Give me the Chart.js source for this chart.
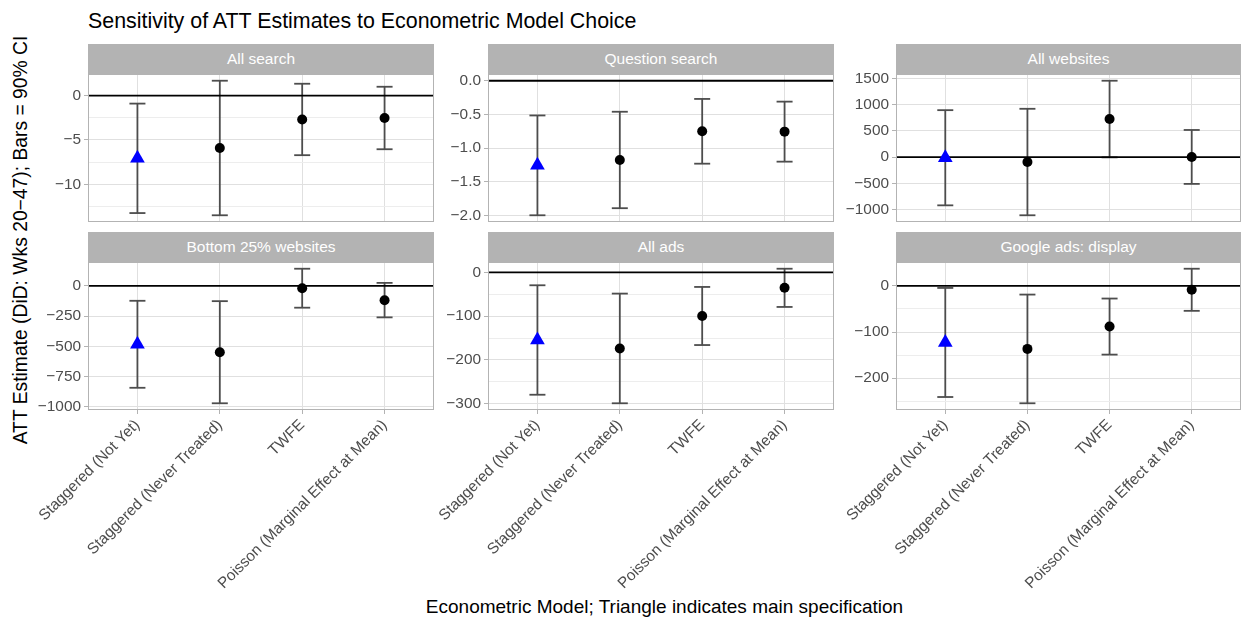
<!DOCTYPE html>
<html>
<head>
<meta charset="utf-8">
<script src="https://cdn.jsdelivr.net/npm/chart.js@4.4.1/dist/chart.umd.min.js"></script>
<style>
  html, body { margin:0; padding:0; }
  body { width:1241px; height:620px; background:#ffffff; position:relative; overflow:hidden;
         font-family:"Liberation Sans", Arial, Helvetica, sans-serif; }
  .strip { position:absolute; background:#b3b3b3; color:#ffffff; font-size:15.5px;
           display:flex; align-items:center; justify-content:center; white-space:nowrap; }
  canvas { position:absolute; }
  #title { position:absolute; left:88px; top:11px; font-size:21.4px; line-height:21px; color:#000; white-space:nowrap; }
  #xtitle { position:absolute; left:88px; width:1153px; top:597px; font-size:19px; line-height:19px; color:#000; text-align:center; white-space:nowrap; }
  #ytitle { position:absolute; left:20px; top:240px; font-size:19.3px; line-height:19px; color:#000; white-space:nowrap;
            transform:translate(-50%,-50%) rotate(-90deg); }
</style>
</head>
<body>
<div id="title">Sensitivity of ATT Estimates to Econometric Model Choice</div>
<div id="ytitle">ATT Estimate (DiD: Wks 20−47); Bars = 90% CI</div>
<div id="xtitle">Econometric Model; Triangle indicates main specification</div>
<script>
// ---------------- DATA ----------------
const categories = ['Staggered (Not Yet)', 'Staggered (Never Treated)', 'TWFE', 'Poisson (Marginal Effect at Mean)'];
const panelTitles = ['All search', 'Question search', 'All websites', 'Bottom 25% websites', 'All ads', 'Google ads: display'];
const mainSpecIndex = 0; // triangle = main specification

const allSearchEst = [-7.08, -5.91, -2.69, -2.53];
const allSearchLo  = [-13.25, -13.5, -6.72, -6.05];
const allSearchHi  = [-0.9, 1.68, 1.34, 1.0];

const questionSearchEst = [-1.255, -1.175, -0.75, -0.755];
const questionSearchLo  = [-1.995, -1.89, -1.23, -1.2];
const questionSearchHi  = [-0.515, -0.46, -0.27, -0.31];

const allWebsitesEst = [-12, -94, 724, 3];
const allWebsitesLo  = [-918, -1107, -5, -510];
const allWebsitesHi  = [893, 919, 1453, 516];

const bottomWebsitesEst = [-483, -548, -19, -118];
const bottomWebsitesLo  = [-842, -970, -180, -260];
const bottomWebsitesHi  = [-123, -126, 142, 25];

const allAdsEst = [-154.5, -174, -99.6, -35.3];
const allAdsLo  = [-279.5, -299, -166, -79];
const allAdsHi  = [-29.5, -48.5, -33.3, 8.3];

const googleDisplayEst = [-122.6, -136.6, -88.1, -8.3];
const googleDisplayLo  = [-241, -254.6, -149, -54];
const googleDisplayHi  = [-4.3, -18.7, -27.3, 37.4];

const majorSteps = [5, 0.5, 500, 250, 100, 100];

// ---------------- LAYOUT ----------------
const panelEst = [allSearchEst, questionSearchEst, allWebsitesEst, bottomWebsitesEst, allAdsEst, googleDisplayEst];
const panelLo  = [allSearchLo, questionSearchLo, allWebsitesLo, bottomWebsitesLo, allAdsLo, googleDisplayLo];
const panelHi  = [allSearchHi, questionSearchHi, allWebsitesHi, bottomWebsitesHi, allAdsHi, googleDisplayHi];

const colLeft = [88, 488, 896];
const colWidth = [346, 346, 345];
const rowStripTop = [44, 232];
const stripH = 30, plotH = 148;
const yAxisW = 80, xAxisH = 205;
const xMin = -0.6, xMax = categories.length - 1 + 0.6;
const FONT = '"Liberation Sans", Arial, Helvetica, sans-serif';

const borderPlugin = {
  id: 'panelBorder',
  afterDatasetsDraw(chart) {
    const a = chart.chartArea, ctx = chart.ctx;
    ctx.save();
    ctx.strokeStyle = '#b3b3b3';
    ctx.lineWidth = 1;
    ctx.strokeRect(Math.round(a.left) + 0.5, Math.round(a.top) + 0.5,
                   Math.round(a.right - a.left) - 1, Math.round(a.bottom - a.top) - 1);
    ctx.restore();
  }
};

function zeroPad(s) {
  s.paddingTop = 0; s.paddingBottom = 0; s.paddingLeft = 0; s.paddingRight = 0;
}

function fmt(v, dec) {
  return v.toFixed(dec).replace('-', '\u2212');
}

function buildPanel(i) {
  const est = panelEst[i], lo = panelLo[i], hi = panelHi[i];
  const row = Math.floor(i / 3), col = i % 3;
  const plotL = colLeft[col], plotW = colWidth[col];
  const stripTop = rowStripTop[row], plotT = stripTop + stripH;
  const bottomRow = row === 1;

  const strip = document.createElement('div');
  strip.className = 'strip';
  strip.style.left = plotL + 'px';
  strip.style.top = stripTop + 'px';
  strip.style.width = plotW + 'px';
  strip.style.height = stripH + 'px';
  strip.textContent = panelTitles[i];
  document.body.appendChild(strip);

  const axisH = bottomRow ? xAxisH : 0;
  const cw = yAxisW + plotW + 1, ch = plotH + 1 + axisH;
  const canvas = document.createElement('canvas');
  canvas.width = cw; canvas.height = ch;
  canvas.style.width = cw + 'px'; canvas.style.height = ch + 'px';
  canvas.style.left = (plotL - yAxisW) + 'px';
  canvas.style.top = (plotT - 1) + 'px';
  document.body.appendChild(canvas);

  const dmin = Math.min(0, ...lo), dmax = Math.max(0, ...hi);
  const pad = (dmax - dmin) * 0.05;
  const ymin = dmin - pad, ymax = dmax + pad;
  const step = majorSteps[i], minor = step / 2;
  const dec = step < 1 ? 1 : 0;
  const yTicks = [];
  for (let k = Math.ceil(ymin / minor); k * minor <= ymax; k++) {
    yTicks.push({ value: k * minor, major: Math.abs(k) % 2 === 0 });
  }

  const points = est.map((v, j) => ({ x: j, y: v }));
  const caps = [];
  const stems = [];
  lo.forEach((v, j) => {
    caps.push({ x: j, y: v }); caps.push({ x: j, y: hi[j] });
    stems.push({ x: j, y: v }); stems.push({ x: j, y: hi[j] }); stems.push({ x: j, y: null });
  });

  new Chart(canvas, {
    type: 'scatter',
    data: {
      datasets: [
        {
          type: 'scatter', data: points,
          pointStyle: c => c.dataIndex === mainSpecIndex ? 'triangle' : 'circle',
          pointRadius: c => c.dataIndex === mainSpecIndex ? 8.5 : 5,
          backgroundColor: c => c.dataIndex === mainSpecIndex ? '#0000ff' : '#000000',
          borderColor: c => c.dataIndex === mainSpecIndex ? '#0000ff' : '#000000',
          borderWidth: 0
        },
        {
          type: 'line', data: [{ x: xMin, y: 0 }, { x: xMax, y: 0 }],
          borderColor: '#000000', borderWidth: 1.8, pointRadius: 0, fill: false
        },
        {
          type: 'scatter', data: caps, pointStyle: 'line', pointRadius: 8,
          borderColor: '#4d4d4d', borderWidth: 1.8, backgroundColor: '#4d4d4d'
        },
        {
          type: 'line', data: stems, spanGaps: false,
          borderColor: '#4d4d4d', borderWidth: 1.8, pointRadius: 0, fill: false
        }
      ]
    },
    options: {
      responsive: false,
      animation: false,
      events: [],
      layout: { autoPadding: false, padding: { top: 1, right: 1, left: 0, bottom: 0 } },
      plugins: { legend: { display: false }, tooltip: { enabled: false }, title: { display: false } },
      scales: {
        x: {
          type: 'linear', min: xMin, max: xMax,
          afterBuildTicks: s => { s.ticks = categories.map((c, j) => ({ value: j })); },
          afterFit: s => { s.height = axisH; zeroPad(s); },
          border: { display: false },
          grid: {
            color: '#e0e0e0', lineWidth: 1,
            drawTicks: bottomRow, tickLength: 4, tickColor: '#b3b3b3', tickWidth: 1
          },
          ticks: {
            display: bottomRow, autoSkip: false, minRotation: 45, maxRotation: 45,
            padding: 2, color: '#4d4d4d', font: { family: FONT, size: 15.4 },
            callback: v => categories[v] !== undefined ? categories[v] : ''
          }
        },
        y: {
          type: 'linear', min: ymin, max: ymax,
          afterBuildTicks: s => { s.ticks = yTicks.map(t => ({ value: t.value, major: t.major })); },
          afterFit: s => { s.width = yAxisW; zeroPad(s); },
          border: { display: false },
          grid: {
            color: c => (c.tick && c.tick.major) ? '#e0e0e0' : '#ededed',
            lineWidth: 1, drawTicks: true, tickLength: 4, tickWidth: 1,
            tickColor: c => (c.tick && c.tick.major) ? '#b3b3b3' : 'rgba(0,0,0,0)'
          },
          ticks: {
            padding: 3, color: '#4d4d4d', font: { family: FONT, size: 15.4 },
            callback: function (v, idx, ticks) {
              const t = yTicks[idx];
              return (t && t.major) ? fmt(t.value, dec) : '';
            }
          }
        }
      }
    },
    plugins: [borderPlugin]
  });
}

for (let i = 0; i < panelTitles.length; i++) buildPanel(i);
</script>
</body>
</html>
